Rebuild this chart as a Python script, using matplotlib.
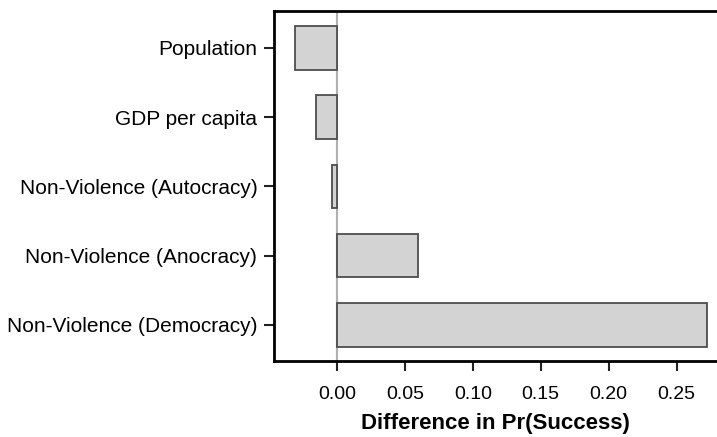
"""Horizontal bar chart of first differences in Pr(Success)."""

import matplotlib.pyplot as plt

plt.rcParams["font.family"] = ["Liberation Sans", "DejaVu Sans"]

# bottom-to-top order
labels = [
    "Non-Violence (Democracy)",
    "Non-Violence (Anocracy)",
    "Non-Violence (Autocracy)",
    "GDP per capita",
    "Population",
]
diffs = [0.2727, 0.0594, -0.0039, -0.0157, -0.031]
xticks = [0.00, 0.05, 0.10, 0.15, 0.20, 0.25]


def main() -> None:
    fig = plt.figure(figsize=(7.17, 4.37), dpi=100)
    ax = fig.add_axes([274 / 717, 1 - 361 / 437, 1 - 274 / 717, 350 / 437])

    pos = list(range(1, len(labels) + 1))
    ax.axvline(0, color="#b0b0b0", lw=1.5, zorder=1)
    ax.barh(pos, diffs, height=0.63, color="#d3d3d3", edgecolor="#4d4d4d",
            linewidth=1.3, zorder=2)

    ax.set_xlim(-0.0464, 0.2798)
    ax.set_ylim(0.48, 5.53)
    ax.set_yticks(pos)
    ax.set_yticklabels(labels, fontsize=15)
    ax.set_xticks(xticks)
    ax.set_xticklabels([f"{t:.2f}" for t in xticks], fontsize=14)
    ax.set_xlabel("Difference in Pr(Success)", fontsize=16, fontweight="bold",
                  labelpad=7)

    for side in ("left", "bottom", "top"):
        ax.spines[side].set_linewidth(2)
    ax.spines["right"].set_visible(False)
    ax.tick_params(axis="both", length=7, width=1.5, color="#222222")
    ax.tick_params(axis="x", pad=11)
    ax.tick_params(axis="y", pad=5)

    fig.savefig("out.png", dpi=100)


if __name__ == "__main__":
    main()
